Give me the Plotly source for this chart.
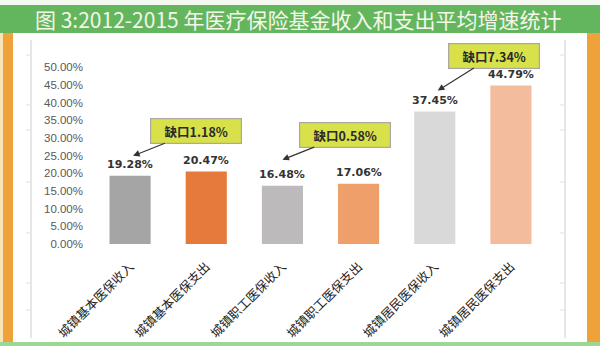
import plotly.graph_objects as go

categories = ["城镇基本医保收入", "城镇基本医保支出", "城镇职工医保收入",
              "城镇职工医保支出", "城镇居民医保收入", "城镇居民医保支出"]
values = [0.1928, 0.2047, 0.1648, 0.1706, 0.3745, 0.4479]
bar_colors = ["#a5a5a5", "#e57a3a", "#bcbaba", "#efa06a", "#d9d9d9", "#f3bc9c"]
gap_labels = ["缺口1.18%", "缺口0.58%", "缺口7.34%"]
gap_targets = [0, 2, 4]
y_ticks = [i * 0.05 for i in range(11)]
title_text = "图 3:2012-2015 年医疗保险基金收入和支出平均增速统计"

W, H = 600, 346
L, R, T, B = 92, 51, 67, 102
PW, PH = W - L - R, H - T - B


def fx(px):
    return (px - L) / PW


def fy(py):
    return (H - B - py) / PH


fig = go.Figure()
fig.add_trace(go.Bar(
    x=categories, y=values, marker=dict(color=bar_colors, line=dict(width=0)),
    hoverinfo="skip", width=0.54,
))

shapes = []
def rect(x0, y0, x1, y1, color):
    shapes.append(dict(type="rect", xref="paper", yref="paper",
                       x0=fx(x0), x1=fx(x1), y0=fy(y1), y1=fy(y0),
                       fillcolor=color, line=dict(width=0), layer="below"))

rect(0, 0, 600, 6, "#f3f9ee")
rect(0, 5, 600, 33, "#63b65d")
rect(0, 33, 3, 343, "#f7e3b8")
rect(3, 33, 13, 343, "#f0a23a")
rect(587, 33, 600, 343, "#f0a23a")
rect(0, 342, 600, 346, "#9ad893")
for lx in (31, 565):
    shapes.append(dict(type="line", xref="paper", yref="paper",
                       x0=fx(lx), x1=fx(lx), y0=fy(40), y1=fy(338),
                       line=dict(color="#d6d6d6", width=1.2), layer="below"))
    for ty in (55, 105, 130, 182, 233, 283, 310):
        shapes.append(dict(type="line", xref="paper", yref="paper",
                           x0=fx(lx - 5), x1=fx(lx), y0=fy(ty), y1=fy(ty),
                           line=dict(color="#e0e0e0", width=1), layer="below"))

annotations = [dict(
    xref="paper", yref="paper", x=fx(298), y=fy(19), text=title_text,
    showarrow=False, xanchor="center", yanchor="middle",
    font=dict(family="Noto Sans CJK SC", size=21, color="#f4f6ea"),
)]

for c, v in zip(categories, values):
    annotations.append(dict(
        x=c, y=v, text=f"<b>{v * 100:.2f}%</b>", showarrow=False, yanchor="bottom",
        yshift=3, font=dict(family="Verdana, DejaVu Sans", size=11, color="#333333"),
    ))

callout_geom = [  # (ax, ay, yshift, xshift)
    (63, -25, 20, 3),
    (63, -25, 26, 0),
    (56, -35, 21, 3),
]
for lbl, idx, (ax, ay, ys, xs) in zip(gap_labels, gap_targets, callout_geom):
    annotations.append(dict(
        x=categories[idx], y=values[idx], text=f"<b>{lbl}</b>",
        showarrow=True, ax=ax, ay=ay, yshift=ys, xshift=xs,
        arrowhead=2, arrowsize=1.1, arrowwidth=1.2, arrowcolor="#333333",
        bgcolor="#d8e04a", bordercolor="#a9a9a0", borderwidth=1.2,
        borderpad=5, width=80, height=14,
        font=dict(family="Noto Sans CJK SC", size=12.5, color="#2a2a2a"),
    ))

fig.update_layout(
    width=W, height=H, margin=dict(l=L, r=R, t=T, b=B, autoexpand=False),
    paper_bgcolor="white", plot_bgcolor="white", showlegend=False,
    bargap=0.46, shapes=shapes, annotations=annotations,
    xaxis=dict(tickangle=-45, showline=False, showgrid=False, ticks="",
               ticklabelstandoff=12,
               tickfont=dict(family="Noto Sans CJK SC", size=12.5, color="#222222"),
               fixedrange=True),
    yaxis=dict(range=[0, 0.5005], tickvals=y_ticks, tickformat=".2%",
               showgrid=False, showline=False, zeroline=False, ticks="",
               ticklabelstandoff=8,
               tickfont=dict(family="Liberation Sans", size=11.5, color="#595959"),
               fixedrange=True),
)

fig.write_html("out.html")
